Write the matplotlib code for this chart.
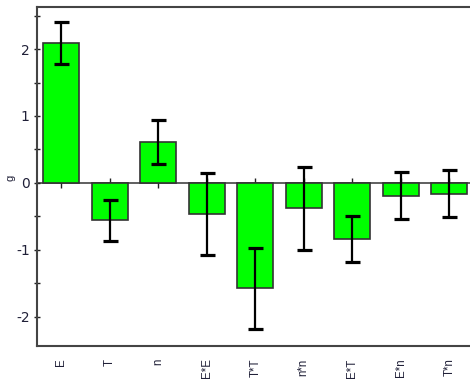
import matplotlib
matplotlib.use("Agg")
import matplotlib.pyplot as plt
from matplotlib.ticker import MultipleLocator
import numpy as np

# Effect estimates with their error half-widths
terms = ["E", "T", "n", "E*E", "T*T", "n*n", "E*T", "E*n", "T*n"]
effects = [2.09, -0.56, 0.61, -0.47, -1.58, -0.38, -0.84, -0.19, -0.16]
errors = [0.31, 0.31, 0.33, 0.61, 0.61, 0.62, 0.35, 0.355, 0.35]
y_ticks = [-2, -1, 0, 1, 2]

fig = plt.figure(figsize=(4.7, 3.85), dpi=100)
ax = fig.add_axes([37 / 470, 1 - 346 / 385, 436.5 / 470, (346 - 7) / 385])

x = np.arange(len(terms))

# reference line at zero with small category ticks on it
ax.axhline(0, color="#444444", lw=1.2, zorder=1)
ax.plot(x, np.zeros(len(x)), marker="|", ms=7, mew=1.0, ls="none",
        color="#222222", zorder=1)

ax.bar(x, effects, width=0.74, color="#00ff00", edgecolor="#333333",
       linewidth=1.2, zorder=2)
ax.errorbar(x, effects, yerr=errors, fmt="none", ecolor="black",
            elinewidth=1.6, capsize=5.4, capthick=2.3, zorder=3)

ax.set_xlim(-0.5, 8.5)
ax.set_ylim(-2.44, 2.63)

ax.set_yticks(y_ticks)
ax.set_yticklabels([str(v) for v in y_ticks],
                   family=["Liberation Sans Narrow", "DejaVu Sans"],
                   fontsize=10, color="#202038")
ax.yaxis.set_minor_locator(MultipleLocator(0.5))
ax.tick_params(axis="y", which="both", direction="inout", length=4.5,
               width=1.0, color="#222222", pad=3)

ax.set_xticks(x)
ax.set_xticklabels(terms, rotation=90, fontsize=8.3,
                   family=["Liberation Sans", "DejaVu Sans"], color="#202038",
                   va="top", ha="center")
ax.tick_params(axis="x", length=0, pad=9)

ax.set_ylabel("g", fontsize=8, family=["Liberation Sans", "DejaVu Sans"],
              color="#202038", labelpad=9)
ax.yaxis.set_label_coords(-22 / 436.5, 0.495)

for side in ("left", "top", "bottom"):
    ax.spines[side].set_color("#444444")
    ax.spines[side].set_linewidth(1.5)
ax.spines["right"].set_visible(False)

fig.savefig("out.png", dpi=100, facecolor="white")
